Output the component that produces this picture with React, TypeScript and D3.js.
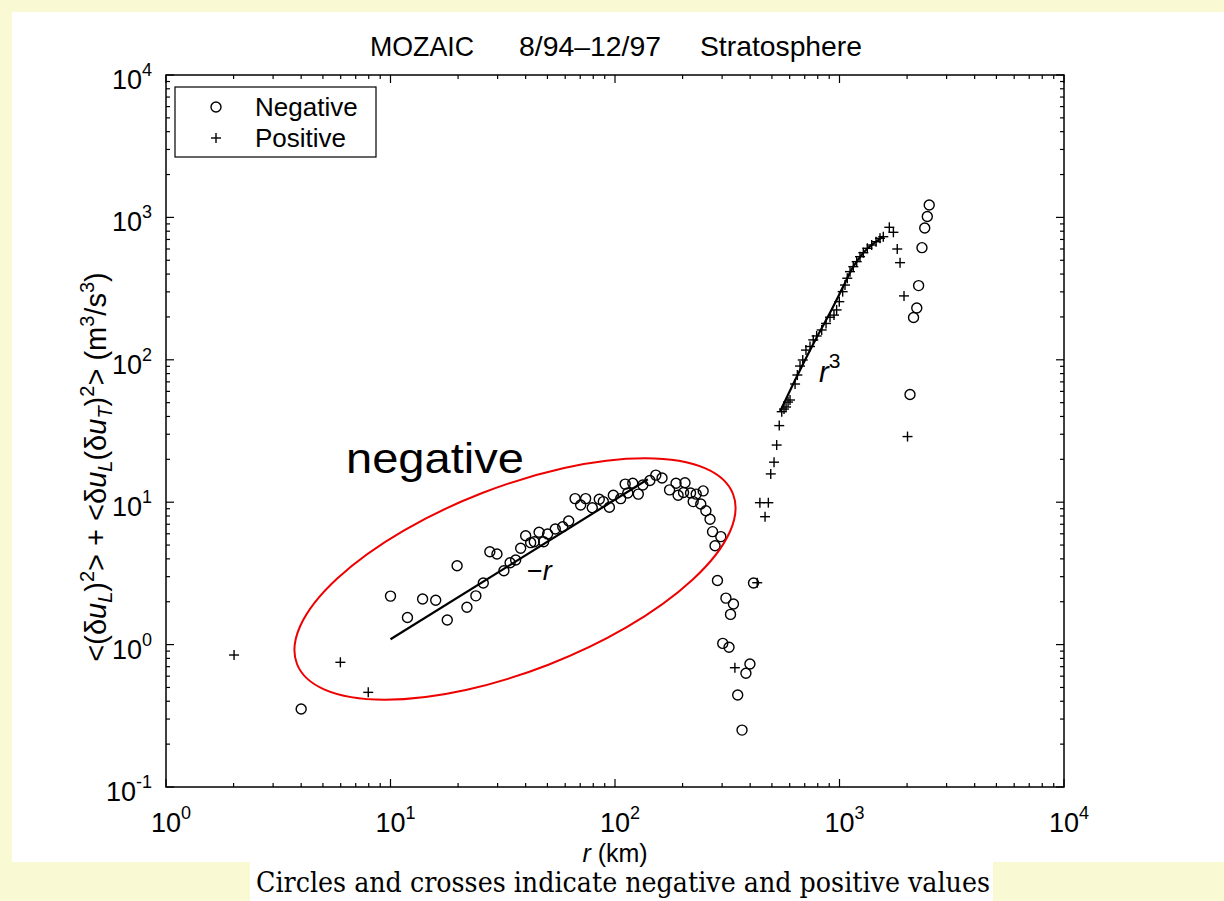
import React from "react";
import * as d3 from "d3";

// ---- data ----
const negR = [4.0, 10, 11.9, 13.9, 15.9, 17.9, 19.8, 21.9, 24.0, 25.9, 27.7, 29.8, 32.0, 34.1, 36.1, 38.0, 40.0, 42.1, 43.7, 45.9, 48.1, 50.1, 54.2, 58.5, 62.2, 66.4, 70.3, 74.0, 79.2, 85.1, 88.7, 94.4, 98.3, 106, 114, 111, 120, 127, 133, 143, 152, 162, 175, 187, 191, 205, 202, 217, 223, 230, 247, 241, 254, 265, 272, 296, 279, 286, 312, 337, 327, 302, 322, 399, 383, 352, 368, 414, 2061, 2137, 2209, 2251, 2330, 2397, 2461, 2510];
const negV = [0.353, 2.19, 1.55, 2.09, 2.05, 1.49, 3.58, 1.83, 2.20, 2.71, 4.49, 4.33, 3.30, 3.76, 3.93, 4.75, 5.82, 5.20, 5.28, 6.15, 5.28, 5.98, 6.48, 6.73, 7.38, 10.6, 9.56, 10.6, 9.15, 10.5, 10.1, 9.21, 11.2, 10.6, 11.6, 13.4, 13.6, 11.4, 13.2, 14.2, 15.5, 14.8, 12.2, 13.6, 11.2, 13.7, 11.7, 11.6, 10.1, 11.4, 12.0, 9.71, 8.71, 7.59, 6.21, 5.73, 4.95, 2.82, 2.12, 1.93, 1.63, 1.02, 0.957, 0.731, 0.629, 0.443, 0.251, 2.71, 57.1, 198, 231, 332, 613, 843, 1015, 1222];

const posR = [2.01, 5.98, 7.96, 342, 430, 442, 466, 482, 494, 511, 525, 539, 553, 566, 578, 590, 602, 634, 649, 667, 686, 709, 739, 764, 791, 833, 871, 907, 945, 971, 998, 1033, 1058, 1083, 1114, 1152, 1193, 1234, 1277, 1330, 1391, 1455, 1515, 1567, 1667, 1738, 1808, 1861, 1938, 2009];
const posV = [0.845, 0.751, 0.462, 0.688, 2.72, 9.92, 7.91, 9.92, 15.8, 19.1, 25.2, 34.5, 43.2, 45.1, 46.6, 50.5, 52.2, 67.6, 78.2, 90.4, 99.7, 117, 124, 138, 147, 162, 180, 199, 206, 224, 256, 301, 335, 374, 416, 451, 489, 530, 565, 607, 640, 675, 713, 732, 852, 786, 600, 481, 281, 28.9];

// fitted "-r" line
const fitLinR = [10, 140];
const fitLinV = [1.09, 14.5];
// fitted "r^3" curve
const fitCubR = [543, 645, 764, 907, 1040, 1152, 1322, 1567];
const fitCubV = [43.2, 76.1, 129, 214, 328, 451, 597, 732];

const xExps = [0, 1, 2, 3, 4];
const yExps = [-1, 0, 1, 2, 3, 4];

const titleParts = ["MOZAIC", "8/94\u201312/97", "Stratosphere"];
const legendLabels = ["Negative", "Positive"];
const caption = "Circles and crosses indicate negative and positive values";

const W = 1224;
const H = 901;
const L = 166, R = 1064, T = 75, B = 787;
const FONT = "'Liberation Sans', Arial, Helvetica, sans-serif";
const YELLOW = "#f9f9d4";

export default function App() {
  const x = d3.scaleLog().domain([1, 1e4]).range([L, R]);
  const y = d3.scaleLog().domain([0.1, 1e4]).range([B, T]);

  const minorX: number[] = [];
  for (let e = 0; e < 4; e++) for (let m = 2; m <= 9; m++) minorX.push(m * Math.pow(10, e));
  const minorY: number[] = [];
  for (let e = -1; e < 4; e++) for (let m = 2; m <= 9; m++) minorY.push(m * Math.pow(10, e));

  const line = d3.line<[number, number]>().x((d) => x(d[0])).y((d) => y(d[1]));
  const smooth = d3.line<[number, number]>().x((d) => x(d[0])).y((d) => y(d[1])).curve(d3.curveCatmullRom);
  const linPts = fitLinR.map((r, i) => [r, fitLinV[i]] as [number, number]);
  const cubPts = fitCubR.map((r, i) => [r, fitCubV[i]] as [number, number]);

  const maj = 8, mnr = 4;
  const cs = 5; // cross half size

  return (
    <svg width={W} height={H} style={{ position: "absolute", left: 0, top: 0 }} fontFamily={FONT}>
      <rect x={0} y={0} width={W} height={H} fill={YELLOW} />
      <rect x={12} y={12} width={W - 12} height={850} fill="#ffffff" />
      <rect x={250} y={862} width={743} height={39} fill="#ffffff" />

      {/* title */}
      <text x={370} y={56} fontSize={28} textLength={104} lengthAdjust="spacingAndGlyphs">{titleParts[0]}</text>
      <text x={519} y={56} fontSize={28} textLength={142} lengthAdjust="spacingAndGlyphs">{titleParts[1]}</text>
      <text x={700} y={56} fontSize={28} textLength={162} lengthAdjust="spacingAndGlyphs">{titleParts[2]}</text>

      {/* ticks */}
      <g stroke="#000" strokeWidth={1.2}>
        {xExps.map((e) => {
          const px = x(Math.pow(10, e));
          return (
            <g key={"xM" + e}>
              <line x1={px} x2={px} y1={B} y2={B - maj} />
              <line x1={px} x2={px} y1={T} y2={T + maj} />
            </g>
          );
        })}
        {minorX.map((v, i) => (
          <g key={"xm" + i}>
            <line x1={x(v)} x2={x(v)} y1={B} y2={B - mnr} />
            <line x1={x(v)} x2={x(v)} y1={T} y2={T + mnr} />
          </g>
        ))}
        {yExps.map((e) => {
          const py = y(Math.pow(10, e));
          return (
            <g key={"yM" + e}>
              <line x1={L} x2={L + maj} y1={py} y2={py} />
              <line x1={R} x2={R - maj} y1={py} y2={py} />
            </g>
          );
        })}
        {minorY.map((v, i) => (
          <g key={"ym" + i}>
            <line x1={L} x2={L + mnr} y1={y(v)} y2={y(v)} />
            <line x1={R} x2={R - mnr} y1={y(v)} y2={y(v)} />
          </g>
        ))}
      </g>
      <rect x={L} y={T} width={R - L} height={B - T} fill="none" stroke="#000" strokeWidth={1.5} />

      {/* tick labels */}
      {xExps.map((e) => (
        <text key={"xl" + e} x={x(Math.pow(10, e)) + 5} y={832} fontSize={27} textAnchor="middle">
          10<tspan dy={-13} fontSize={18}>{e}</tspan>
        </text>
      ))}
      {yExps.map((e) => (
        <text key={"yl" + e} x={152} y={y(Math.pow(10, e)) + 14} fontSize={27} textAnchor="end">
          10<tspan dy={-13} fontSize={18}>{e}</tspan>
        </text>
      ))}

      {/* axis labels */}
      <text x={615} y={862} fontSize={25} textAnchor="middle">
        <tspan fontStyle="italic">r</tspan> (km)
      </text>
      <g transform="translate(106,467) rotate(-90)">
        <text x={0} y={0} fontSize={29} textAnchor="middle">
          {"<(\u03b4"}<tspan fontStyle="italic">u</tspan>
          <tspan dy={6} fontSize={20} fontStyle="italic">L</tspan>
          <tspan dy={-6}>)</tspan>
          <tspan dy={-12} fontSize={20}>2</tspan>
          <tspan dy={12}>{"> + <\u03b4"}</tspan>
          <tspan fontStyle="italic">u</tspan>
          <tspan dy={6} fontSize={20} fontStyle="italic">L</tspan>
          <tspan dy={-6}>{"(\u03b4"}</tspan>
          <tspan fontStyle="italic">u</tspan>
          <tspan dy={6} fontSize={20} fontStyle="italic">T</tspan>
          <tspan dy={-6}>)</tspan>
          <tspan dy={-12} fontSize={20}>2</tspan>
          <tspan dy={12}>{"> (m"}</tspan>
          <tspan dy={-12} fontSize={20}>3</tspan>
          <tspan dy={12}>/s</tspan>
          <tspan dy={-12} fontSize={20}>3</tspan>
          <tspan dy={12}>)</tspan>
        </text>
      </g>

      {/* legend */}
      <rect x={175} y={87} width={201} height={70} fill="#fff" stroke="#000" strokeWidth={1.2} />
      <circle cx={216} cy={107} r={5} fill="none" stroke="#000" strokeWidth={1.4} />
      <g stroke="#000" strokeWidth={1.4}>
        <line x1={216 - cs} x2={216 + cs} y1={138} y2={138} />
        <line x1={216} x2={216} y1={138 - cs} y2={138 + cs} />
      </g>
      <text x={255} y={116} fontSize={26}>{legendLabels[0]}</text>
      <text x={255} y={147} fontSize={26}>{legendLabels[1]}</text>

      {/* fit lines */}
      <path d={line(linPts) || ""} fill="none" stroke="#000" strokeWidth={2.2} />
      <path d={smooth(cubPts) || ""} fill="none" stroke="#000" strokeWidth={2.2} />
      <text x={527} y={580} fontSize={27}>{"\u2212"}<tspan fontStyle="italic">r</tspan></text>
      <text x={819} y={382} fontSize={29} fontStyle="italic">r<tspan dy={-14} fontSize={21} fontStyle="normal">3</tspan></text>

      {/* markers */}
      {negR.map((r, i) => (
        <circle key={"n" + i} cx={x(r)} cy={y(negV[i])} r={5} fill="none" stroke="#000" strokeWidth={1.4} />
      ))}
      <g stroke="#000" strokeWidth={1.4}>
        {posR.map((r, i) => {
          const px = x(r), py = y(posV[i]);
          return (
            <g key={"p" + i}>
              <line x1={px - cs} x2={px + cs} y1={py} y2={py} />
              <line x1={px} x2={px} y1={py - cs} y2={py + cs} />
            </g>
          );
        })}
      </g>

      {/* red annotation */}
      <ellipse cx={515} cy={579} rx={234} ry={92} transform="rotate(-21.3 515 579)" fill="none" stroke="#ee0000" strokeWidth={2} />
      <text x={346} y={473} fontSize={42} textLength={178} lengthAdjust="spacingAndGlyphs" fontFamily={FONT}>negative</text>

      {/* caption */}
      <text x={256} y={892} fontSize={27} fontFamily="'DejaVu Serif', 'Liberation Serif', serif" textLength={734} lengthAdjust="spacingAndGlyphs">{caption}</text>
    </svg>
  );
}
